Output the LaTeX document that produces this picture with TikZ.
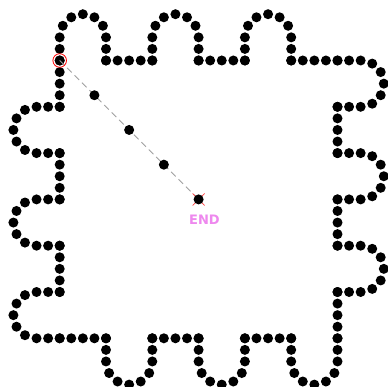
\documentclass[tikz,border=0pt]{standalone}
\usepackage{fontspec}
\newfontfamily\labelfont{DejaVu Sans}
\usetikzlibrary{calc}
\definecolor{endpink}{HTML}{EE88EE}
\definecolor{dashgray}{HTML}{A0A0A0}
\tikzset{
  pendot/.style={circle, fill=black, inner sep=0pt, minimum size=10pt},
  trail/.style={dashgray, line width=0.9pt, dash pattern=on 6.5pt off 4pt},
  startmark/.style={red, line width=0.8pt},
  endmark/.style={red!75, line width=0.7pt},
}
\newcommand{\pdot}[1]{\fill #1 circle[radius=5];}
\begin{document}
\begin{tikzpicture}[x=1pt,y=-1pt]
\useasboundingbox (0,0) rectangle (387,387);
\fill[white] (0,0) rectangle (387,387);
% the four sides of the bumpy square
\foreach \rot in {0,-90,-180,-270}{
  \begin{scope}[rotate around={\rot:(198.6,199.4)}]
  \begin{scope}[shift={(59.7,60.5)}]
    \foreach \a in {0,92.6,185.2}{
      \foreach \k in {0,1,2}{
        \pdot{(\a,-\k*11.575)}
        \pdot{(\a+46.3,-\k*11.575)}
      }
      \foreach \t in {150,120,90,60,30}{
        \pdot{({\a+23.15+23.15*cos(\t)},{-23.15-23.15*sin(\t)})}
      }
      \foreach \k in {0,...,4}{
        \pdot{(\a+46.3+\k*11.575,0)}
      }
    }
  \end{scope}
  \end{scope}
}
% start and end
\coordinate (start) at (59.7,60.5);
\coordinate (finish) at (198.6,199.4);
\draw[trail] (start) -- (finish);
\node[pendot] (m1) at ($(start)!0.25!(finish)$) {};
\node[pendot] (m2) at ($(start)!0.5!(finish)$) {};
\node[pendot] (m3) at ($(start)!0.75!(finish)$) {};
\draw[endmark] ($(finish)+(-6,-6)$) -- ($(finish)+(6,6)$);
\draw[endmark] ($(finish)+(-6,6)$) -- ($(finish)+(6,-6)$);
\node[pendot] (enddot) at (finish) {};
\draw[startmark] (start) circle[radius=6.8];
\node[text=endpink, font=\labelfont\bfseries\fontsize{13}{15}\selectfont, inner sep=0pt] (endlabel) at (204.5,220) {END};
\end{tikzpicture}
\end{document}
